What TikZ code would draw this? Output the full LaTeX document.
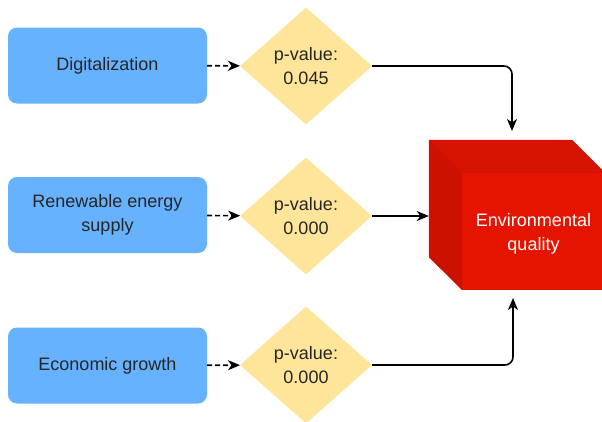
\documentclass[tikz,border=0pt]{standalone}
\usepackage{fontspec}
\setmainfont{Liberation Sans}
\usepackage{tikz}
\usetikzlibrary{arrows.meta,shapes.geometric}
\definecolor{lblue}{RGB}{102, 178, 255}
\definecolor{lyellow}{RGB}{255, 229, 153}
\definecolor{qred}{RGB}{229, 20, 0}
\definecolor{qdark}{RGB}{214, 18, 0}
\definecolor{qdarker}{RGB}{204, 17, 0}

\begin{document}
\begin{tikzpicture}[x=1pt, y=-1pt,
    font=\fontsize{18}{24}\selectfont,
    factor/.style={rectangle, rounded corners=9pt, fill=lblue, minimum width=199pt, minimum height=76pt, align=center, text=black!85},
    pval/.style={diamond, fill=lyellow, inner sep=0pt, minimum width=132pt, minimum height=117pt, align=center, text=black!85},
    conn/.style={line width=1.6pt, -{Stealth[length=12pt, width=10pt, inset=3.5pt]}},
    dconn/.style={conn, dashed, dash pattern=on 5pt off 3pt}]
			\useasboundingbox (0,0) rectangle (602,421);
			\node (a) at (107.5,65.5) [factor] {Digitalization};
			\node (b) at (107.5,215) [factor] {Renewable energy\\supply};
			\node (c) at (107.5,365.5) [factor] {Economic growth};
			\node (pa) at (306,66) [pval] {p-value:\\0.045};
			\node (pb) at (306,216) [pval] {p-value:\\0.000};
			\node (pc) at (306,365) [pval] {p-value:\\0.000};
			% cube
			\node (cube) at (500.5,198.5) [rectangle, fill=qdark, minimum width=143pt, minimum height=117pt] {};
			\fill[qdarker] (cube.north west) -- ++(33,33) -- ++(0,117) -- (cube.south west) -- cycle;
			\fill[qdark] (cube.north west) -- (cube.north east) -- ++(33,33) -- ([shift={(33,33)}]cube.north west) -- cycle;
			\fill[qred] ([shift={(33,33)}]cube.north west) rectangle ++(143,117);
			\node (q) at (533.5,234) [align=center, text=white] {Environmental\\quality};
			\coordinate (qtop) at (512,131);
			\coordinate (qbot) at (513,298);
			\draw[dconn] (a) edge (pa);
			\draw[dconn] (b) edge (pb);
			\draw[dconn] (c) edge (pc);
			\draw[conn, rounded corners=8pt] (pa.east) -| (qtop);
			\draw[conn] (pb.east) -- (pb.east -| cube.west);
			\draw[conn, rounded corners=8pt] (pc.east) -| (qbot);
\end{tikzpicture}
\end{document}
